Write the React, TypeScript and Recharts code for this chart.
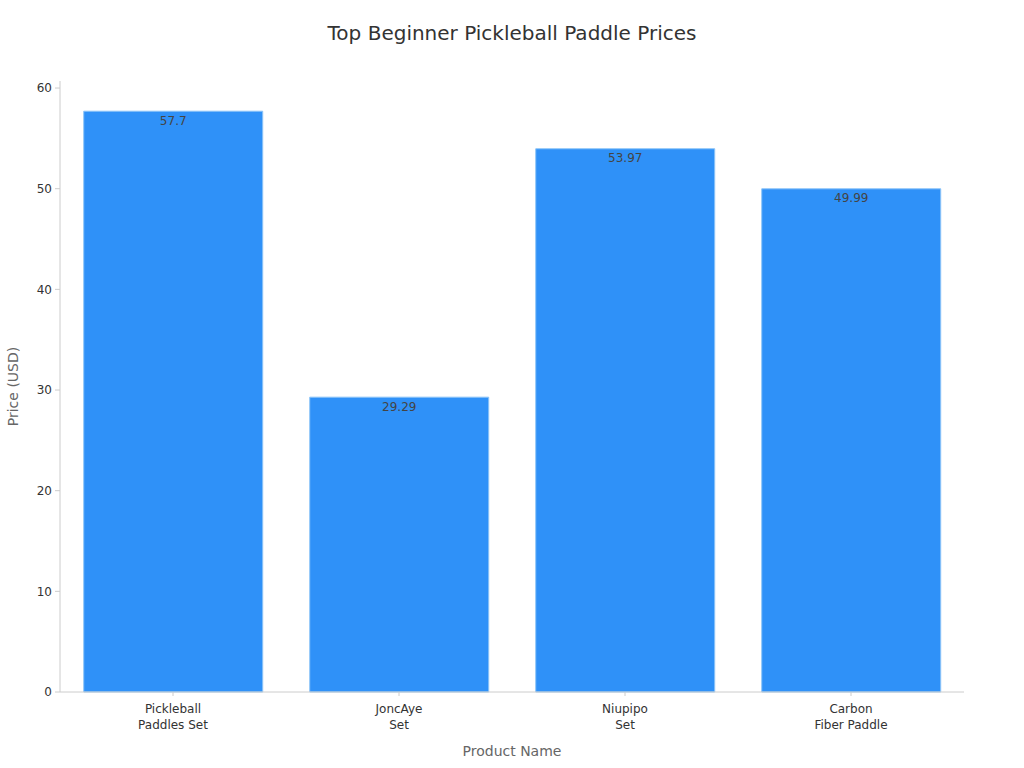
import { BarChart, Bar, XAxis, YAxis, LabelList } from 'recharts'

const products = ['Pickleball\nPaddles Set', 'JoncAye\nSet', 'Niupipo\nSet', 'Carbon\nFiber Paddle']
const prices = [57.7, 29.29, 53.97, 49.99]
const yTicks = [0, 10, 20, 30, 40, 50, 60]

const data = products.map((name, i) => ({ name, price: prices[i] }))

const font = 'DejaVu Sans, sans-serif'

function ProductTick(props: any) {
  const { x, y, payload } = props
  const lines = String(payload.value).split('\n')
  return (
    <text x={x} y={y + 15} textAnchor="middle" fill="#333" fontSize={12} fontFamily={font}>
      {lines.map((l, i) => (
        <tspan key={i} x={x} dy={i === 0 ? 0 : 16}>{l}</tspan>
      ))}
    </text>
  )
}

export default function App() {
  return (
    <div style={{ position: 'absolute', left: 0, top: 0, width: 1024, height: 768, background: '#fff', fontFamily: font }}>
      <div style={{ position: 'absolute', top: 21, width: 1024, textAlign: 'center', fontSize: 20, color: '#333' }}>
        Top Beginner Pickleball Paddle Prices
      </div>
      <BarChart
        width={1024}
        height={768}
        data={data}
        margin={{ top: 81, right: 60, bottom: 26, left: 0 }}
        barCategoryGap="10.5%"
      >
        <XAxis
          dataKey="name"
          height={50}
          stroke="#ccc"
          tickSize={4}
          tick={<ProductTick />}
          interval={0}
          label={{ value: 'Product Name', position: 'insideBottom', offset: -14, fill: '#666', fontSize: 14, fontFamily: font }}
        />
        <YAxis
          width={60}
          domain={[0, 60.7]}
          ticks={yTicks}
          stroke="#ccc"
          tickSize={5}
          tickMargin={3}
          tick={{ fill: '#333', fontSize: 12, fontFamily: font }}
          label={{ value: 'Price (USD)', angle: -90, position: 'insideLeft', offset: 13, fill: '#666', fontSize: 14, fontFamily: font, style: { textAnchor: 'middle' } }}
        />
        <Bar dataKey="price" fill="#2f91f8" stroke="#8cc4f8" strokeWidth={1} isAnimationActive={false}>
          <LabelList dataKey="price" position="insideTop" offset={5} fill="#444" fontSize={12} fontFamily={font} />
        </Bar>
      </BarChart>
    </div>
  )
}
